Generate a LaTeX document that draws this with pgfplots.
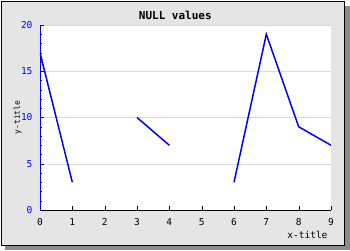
\documentclass[border=0pt]{standalone}
\usepackage{pgfplots}
\pgfplotsset{compat=1.18}
\usepackage{fontspec}
\setmainfont{DejaVu Sans Mono}
\begin{document}
\begin{tikzpicture}[x=1pt,y=1pt]
% background frame (axis lower-left is the origin)
\fill[black!45] (-35,-40) rectangle (310,-35);
\fill[black!45] (305,-40) rectangle (310,204);
\fill[black!10] (-39,-35) rectangle (304,209);
\draw[black,line width=0.8pt] (-39,-35) rectangle (304,209);
\begin{axis}[
  at={(0,0)}, anchor=origin,
  scale only axis, width=291pt, height=185pt,
  xmin=0, xmax=9, ymin=0, ymax=20,
  axis x line*=bottom, axis y line*=left,
  x axis line style={black,-},
  y axis line style={blue,-},
  axis background/.style={fill=white},
  xtick={0,...,9}, ytick={0,5,10,15,20},
  minor y tick num=4,
  tick align=inside,
  major tick length=4pt, minor tick length=2.5pt,
  x tick style={black}, y tick style={blue},
  ymajorgrids, grid style={black!15},
  tick label style={font=\fontsize{9.5}{9.5}\selectfont},
  yticklabel style={blue, xshift=-4pt},
  xticklabel style={yshift=-5pt},
  /pgf/number format/assume math mode=true,
  xlabel={x-title}, ylabel={y-title},
  xlabel style={font=\fontsize{9.5}{9.5}\selectfont, at={(axis description cs:1,0)}, anchor=north east, yshift=-18pt},
  ylabel style={font=\fontsize{8}{8}\selectfont, at={(axis description cs:0,0.5)}, anchor=south, yshift=15pt},
  title={\textbf{NULL values}},
  title style={font=\fontsize{11}{11}\selectfont, at={(axis description cs:0.465,1)}, anchor=center, yshift=4pt},
  unbounded coords=jump,
]
\addplot[blue, line width=1.5pt] coordinates {
 (0,17) (1,3) (2,nan) (3,10) (4,7) (5,nan) (6,3) (7,19) (8,9) (9,7)
};
\end{axis}
\pgfresetboundingbox
\path (-40,-40) rectangle (310,210);
\end{tikzpicture}
\end{document}
